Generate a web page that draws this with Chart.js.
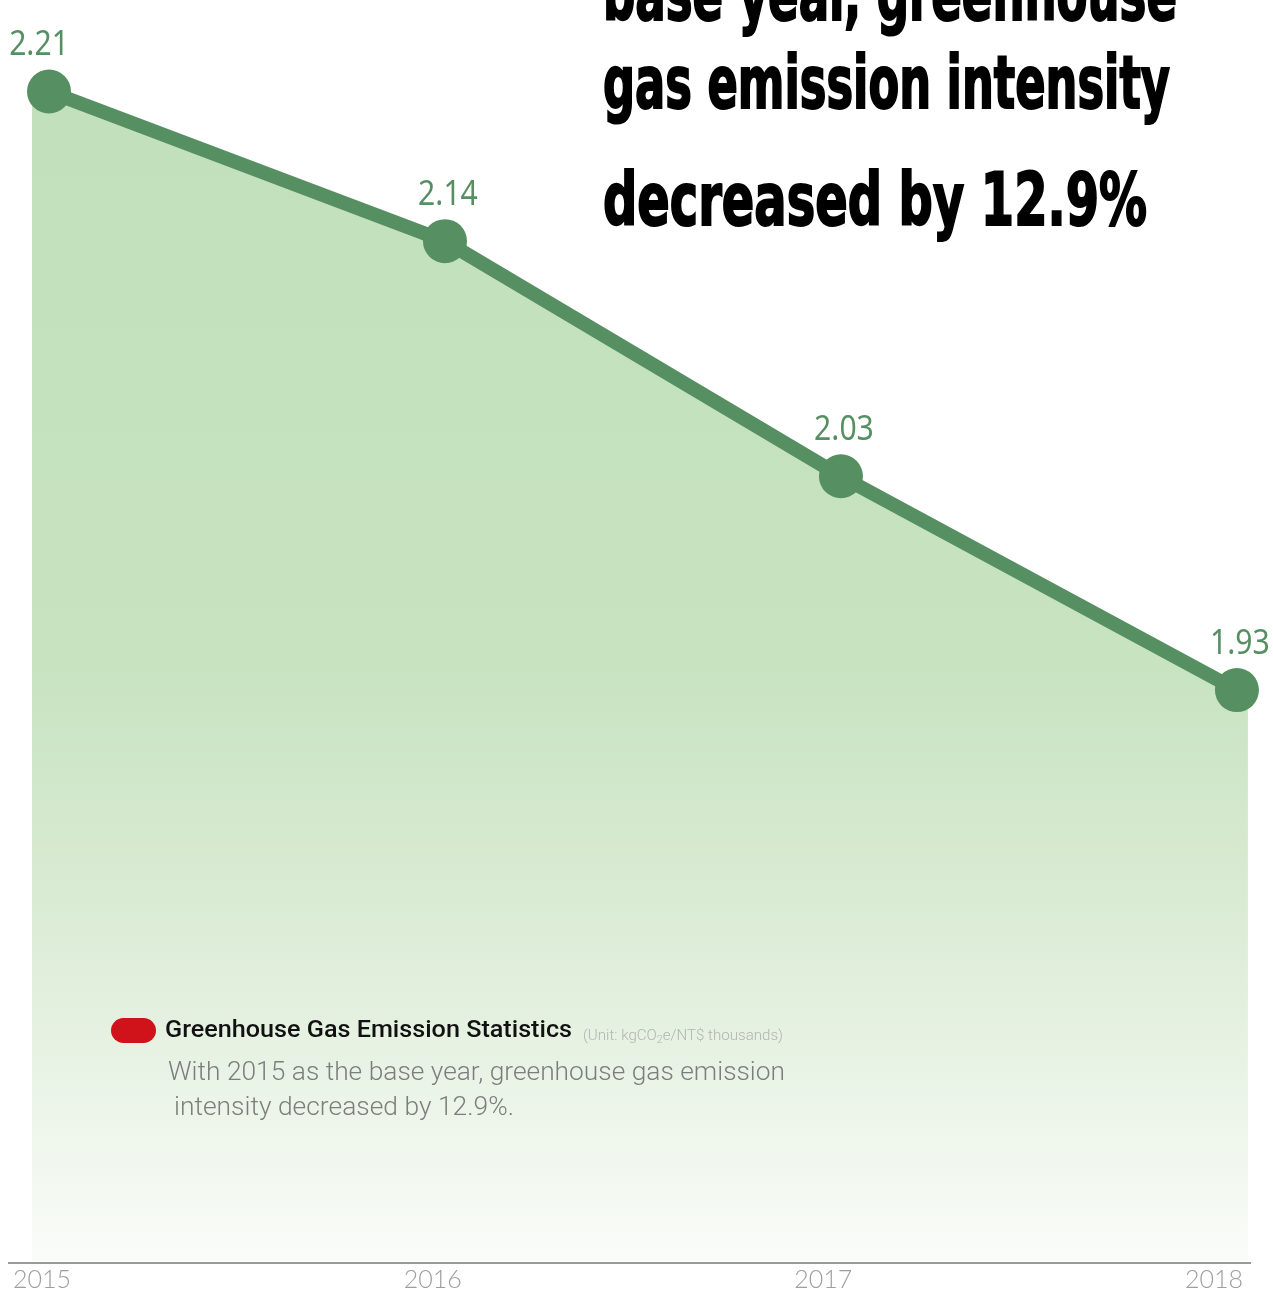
<!DOCTYPE html>
<html>
<head>
<meta charset="utf-8">
<script src="https://cdn.jsdelivr.net/npm/chart.js@4/dist/chart.umd.min.js"></script>
<style>
  html, body { margin: 0; padding: 0; background: #fff; }
  #wrap { position: relative; width: 1273px; height: 1296px; overflow: hidden; }
  #chart { position: absolute; left: 0; top: 0; }
  .fit { position: absolute; white-space: nowrap; transform-origin: 0 0; line-height: 1; }
  .title { font-family: "DejaVu Sans Condensed", "DejaVu Sans", sans-serif; font-weight: bold; font-size: 73px; color: #000; left: 603px; -webkit-text-stroke: 2px #000; }
  .pill { position: absolute; left: 111px; top: 1018px; width: 45px; height: 25px; border-radius: 13px; background: #d0121b; }
  .legend { font-family: Roboto, "Noto Sans", sans-serif; font-weight: 500; font-size: 23px; color: #111; left: 165px; top: 1018px; }
  .unit { font-family: Roboto, sans-serif; font-weight: 300; font-size: 14px; color: #b3b3b3; left: 583px; top: 1028px; }
  .unit sub { font-size: 10px; vertical-align: -3px; }
  .desc { font-family: Roboto, sans-serif; font-weight: 300; font-size: 25px; color: #7d7d7d; }
</style>
</head>
<body>
<div id="wrap">
  <canvas id="chart" width="1273" height="1296"></canvas>
  <div class="fit title" data-w="574" style="top:-42px">base year, greenhouse</div>
  <div class="fit title" data-w="567" style="top:46px">gas emission intensity</div>
  <div class="fit title" data-w="544" style="top:163px">decreased by 12.9%</div>
  <div class="pill"></div>
  <div class="fit legend" data-w="407">Greenhouse Gas Emission Statistics</div>
  <div class="fit unit" data-w="200">(Unit: kgCO<sub>2</sub>e/NT$ thousands)</div>
  <div class="fit desc" data-w="617" style="left:168px; top:1059px">With 2015 as the base year, greenhouse gas emission</div>
  <div class="fit desc" data-w="340" style="left:174px; top:1094px">intensity decreased by 12.9%.</div>
</div>
<script>
// données
const years     = ['2015', '2016', '2017', '2018'];
const intensity = [2.21, 2.14, 2.03, 1.93];

const GREEN = '#558f62';

// squeeze text boxes to the measured widths
document.querySelectorAll('.fit').forEach(el => {
  const w = el.getBoundingClientRect().width;
  const target = +el.dataset.w;
  if (w && target) el.style.transform = 'scaleX(' + (target / w) + ')';
});

// gradient area, a bit wider than the first/last point
const areaFill = {
  id: 'areaFill',
  beforeDatasetsDraw(chart) {
    const pts = chart.getDatasetMeta(0).data;
    const { ctx, chartArea } = chart;
    const bottom = chartArea.bottom - 2;
    const g = ctx.createLinearGradient(0, 60, 0, bottom);
    g.addColorStop(0,    '#c2e0bb');
    g.addColorStop(0.5,  '#c7e3c0');
    g.addColorStop(0.72, '#dcecd6');
    g.addColorStop(1,    '#fafcf9');
    ctx.save();
    ctx.beginPath();
    ctx.moveTo(pts[0].x - 17, pts[0].y);
    pts.forEach(p => ctx.lineTo(p.x, p.y));
    ctx.lineTo(pts[pts.length - 1].x + 11, pts[pts.length - 1].y);
    ctx.lineTo(pts[pts.length - 1].x + 11, bottom);
    ctx.lineTo(pts[0].x - 17, bottom);
    ctx.closePath();
    ctx.fillStyle = g;
    ctx.fill();
    ctx.restore();
  }
};

const valueLabels = {
  id: 'valueLabels',
  afterDatasetsDraw(chart) {
    const { ctx } = chart;
    const pts = chart.getDatasetMeta(0).data;
    ctx.save();
    ctx.fillStyle = GREEN;
    ctx.font = '400 35px "Noto Sans", sans-serif';
    ctx.textAlign = 'center';
    ctx.textBaseline = 'middle';
    pts.forEach((p, i) => {
      ctx.save();
      ctx.translate(i === 0 ? p.x - 10 : p.x + 3, p.y - 46);
      ctx.scale(0.86, 1);
      ctx.fillText(intensity[i].toFixed(2), 0, 0);
      ctx.restore();
    });
    ctx.restore();
  }
};

new Chart(document.getElementById('chart'), {
  type: 'line',
  data: {
    datasets: [{
      data: years.map((y, i) => ({ x: +y, y: intensity[i] })),
      borderColor: GREEN,
      borderWidth: 14,
      pointRadius: 22,
      pointHoverRadius: 22,
      pointBackgroundColor: GREEN,
      pointBorderWidth: 0,
      tension: 0,
      fill: false,
      clip: false
    }]
  },
  options: {
    responsive: false,
    animation: false,
    events: [],
    layout: { autoPadding: false, padding: { left: 9, right: 23, top: 0, bottom: 0 } },
    plugins: { legend: { display: false }, tooltip: { enabled: false } },
    scales: {
      x: { type: 'linear', display: false, min: 2014.899, max: 2018.033 },
      xt: {
        type: 'linear',
        position: 'bottom',
        min: 2014.9155,
        max: 2018.0922,
        grid: { display: true, drawOnChartArea: false, drawTicks: false, color: 'rgba(0,0,0,0)' },
        border: { display: true, color: '#9a9a9a', width: 2 },
        ticks: {
          stepSize: 1,
          includeBounds: false,
          padding: 6,
          color: '#9d9d9d',
          font: { family: 'Lato', weight: 300, size: 25, lineHeight: 21 / 25 },
          callback: v => years.includes(String(v)) ? String(v) : ''
        }
      },
      y: { display: false, min: 1.662, max: 2.2528 }
    }
  },
  plugins: [areaFill, valueLabels]
});
</script>
</body>
</html>
